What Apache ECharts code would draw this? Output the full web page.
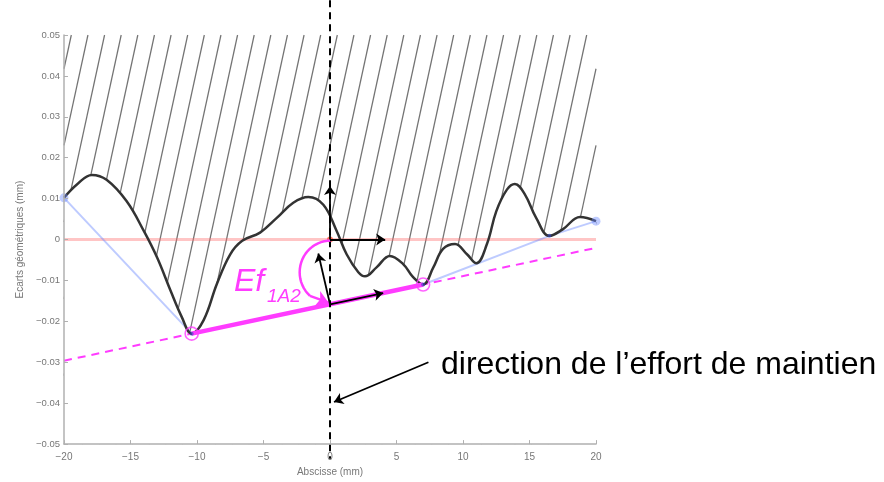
<!DOCTYPE html>
<html><head><meta charset="utf-8">
<script src="https://cdn.jsdelivr.net/npm/echarts/dist/echarts.min.js"></script>
<style>html,body{margin:0;padding:0;background:#fff}#c{width:884px;height:482px}</style>
</head><body><div id="c"></div>
<script>
// ---- data ----
const xTicks = [-20, -15, -10, -5, 0, 5, 10, 15, 20];
const yTicks = [-0.05, -0.04, -0.03, -0.02, -0.01, 0, 0.01, 0.02, 0.03, 0.04, 0.05];
const profileX = [-20, -19.05, -17.9, -16.8, -15.3, -14.0, -13.0, -12.0, -11.15, -10.4, -9.5, -8.5, -7.5, -6.6, -5.26, -4.0, -2.76, -1.63, -0.5, 0.5, 1.25, 2.13, 2.63, 3.5, 4.5, 5.5, 6.2, 7.0, 7.77, 8.5, 9.4, 10.3, 11.0, 11.8, 12.5, 13.3, 13.9, 14.66, 15.5, 16.5, 17.5, 18.8, 20];
const profileY = [0.0102, 0.0134, 0.0158, 0.0146, 0.0094, 0.0021, -0.0044, -0.0124, -0.0189, -0.0230, -0.0197, -0.0108, -0.0036, -0.0003, 0.0017, 0.0053, 0.0090, 0.0104, 0.0085, 0.0021, -0.0036, -0.0080, -0.0090, -0.0068, -0.0040, -0.0060, -0.0090, -0.0110, -0.0068, -0.0023, -0.0011, -0.0036, -0.0058, -0.0011, 0.0069, 0.0122, 0.0136, 0.0110, 0.0053, 0.0009, 0.0025, 0.0055, 0.0045];
const hullX = [-20, -10.4, 7.0, 16.5, 20];
const hullY = [0.0102, -0.0230, -0.0110, 0.0009, 0.0045];
const contactX = [-10.4, 7.0];
const contactY = [-0.0230, -0.0110];
const frameX = [-20, 20];
const frameY = [-0.05, 0.05];
const forceArrowTail = [7.4, -0.0300];
const forceArrowHead = [0.3, -0.0397];
const refArrowUp = [0, 0.0131];
const refArrowRight = [4.15, 0];
const perpArrowTip = [-0.88, -0.0034];
const tangentArrowLen = 4.0;
const axisLineTop = 0.0585, axisLineBottom = -0.0536;
const labelEf = 'Ef', labelSub = '1A2';
const labelDir = 'direction de l’effort de maintien';
const xName = 'Abscisse (mm)', yName = 'Ecarts géométriques (mm)';

// ---- derived geometry ----
const slope = (contactY[1] - contactY[0]) / (contactX[1] - contactX[0]);
const lineAt = x => contactY[0] + slope * (x - contactX[0]);
const pivot = [0, lineAt(0)];
const profile = profileX.map((x, i) => [x, profileY[i]]);
const hull = hullX.map((x, i) => [x, hullY[i]]);

// hatching: parallel strokes from top of frame, clipped to frame, masked below profile
const hatchSlope = 0.015, hatchStart = -19.45, hatchStep = 1.25, hatchCount = 36;
const hatch = [];
for (let k = 0; k < hatchCount; k++) {
  const xt = hatchStart + k * hatchStep;
  let x1 = xt, y1 = frameY[1];
  if (x1 > frameX[1]) { y1 = frameY[1] - hatchSlope * (x1 - frameX[1]); x1 = frameX[1]; }
  let x2 = xt - (frameY[1] - frameY[0]) / hatchSlope, y2 = frameY[0];
  if (x2 < frameX[0]) { y2 = frameY[1] - hatchSlope * (xt - frameX[0]); x2 = frameX[0]; }
  if (y1 > y2 && y1 > -0.01) hatch.push({ coords: [[x1, y1], [x2, y2]] });
}

// arc annotation (angle Ef) in pixel-proportional units
const pxX = 532 / 40, pxY = 413 / 0.1;
const arcC = [0.05, -0.0080], arcR = 31;
const arc = [];
for (let a = 90; a <= 228; a += 6) {
  const r = a * Math.PI / 180;
  arc.push([arcC[0] + arcR * Math.cos(r) / pxX, arcC[1] + 32 * Math.sin(r) / pxY]);
}
const arcEnd = arc[arc.length - 1];

const mag = '#ff3cff';
const fmt = v => (Math.abs(v) < 1e-9 ? '0' : String(+v.toFixed(2)).replace('-', '\u2212'));

const chart = echarts.init(document.getElementById('c'), null, { renderer: 'canvas' });
chart.setOption({
  animation: false,
  backgroundColor: '#fff',
  grid: { left: 64, right: 288, top: 35, bottom: 34 },
  xAxis: {
    type: 'value', min: xTicks[0], max: xTicks[xTicks.length - 1], interval: 5, z: 10,
    name: xName, nameLocation: 'middle', nameGap: 21,
    nameTextStyle: { fontSize: 10, color: '#777', fontFamily: 'Liberation Sans' },
    axisLine: { onZero: false, lineStyle: { color: '#b0b0b0', width: 1.5 } },
    axisTick: { inside: true, length: 4, lineStyle: { color: '#b0b0b0' } },
    axisLabel: { fontSize: 10, color: '#777', margin: 8, fontFamily: 'Liberation Sans', formatter: fmt },
    splitLine: { show: false }
  },
  yAxis: {
    type: 'value', min: yTicks[0], max: yTicks[yTicks.length - 1], interval: 0.01, z: 10,
    name: yName, nameLocation: 'middle', nameGap: 38,
    nameTextStyle: { fontSize: 10, color: '#777', fontFamily: 'Liberation Sans' },
    axisLine: { onZero: false, lineStyle: { color: '#b0b0b0', width: 1.5 } },
    axisTick: { inside: true, length: 4, lineStyle: { color: '#b0b0b0' } },
    axisLabel: { fontSize: 9.5, color: '#777', margin: 4, fontFamily: 'Liberation Sans', formatter: fmt },
    splitLine: { show: false }
  },
  graphic: [
    { type: 'text', left: 234, top: 266, z: 100, style: { text: labelEf, font: 'italic 32px "Liberation Sans", Arial', fill: mag } },
    { type: 'text', left: 267, top: 287, z: 100, style: { text: labelSub, font: 'italic 19px "Liberation Sans", Arial', fill: mag } },
    { type: 'text', left: 441, top: 349, z: 100, style: { text: labelDir, font: '32px "Liberation Sans", Arial', fill: '#000' } }
  ],
  series: [
    { type: 'lines', coordinateSystem: 'cartesian2d', z: 1, silent: true, clip: true,
      data: hatch, lineStyle: { color: '#505050', width: 1.25, opacity: 0.8 } },
    { type: 'line', data: profile, smooth: 0.4, showSymbol: false, z: 2, silent: true,
      lineStyle: { width: 0 }, areaStyle: { color: '#fff', opacity: 1, origin: 'start' } },
    { type: 'line', data: [[frameX[0], 0], [frameX[1], 0]], showSymbol: false, z: 3,
      lineStyle: { color: 'rgba(255,110,110,0.4)', width: 3 } },
    { type: 'line', data: hull, showSymbol: false, z: 3,
      lineStyle: { color: 'rgba(110,140,255,0.45)', width: 2 } },
    { type: 'line', data: [[frameX[0], lineAt(frameX[0])], [frameX[1], lineAt(frameX[1])]], showSymbol: false, z: 4,
      lineStyle: { color: mag, width: 2, type: [8, 6] } },
    { type: 'line', data: profile, smooth: 0.4, showSymbol: false, z: 5,
      lineStyle: { color: '#333', width: 2.5 } },
    { type: 'line', data: contactX.map((x, i) => [x, contactY[i]]), showSymbol: false, z: 6,
      lineStyle: { color: mag, width: 4.5 } },
    { type: 'scatter', z: 6, symbolSize: 9, itemStyle: { color: 'rgba(110,140,255,0.55)' },
      data: [hull[0], hull[hull.length - 1]] },
    { type: 'scatter', z: 7, symbolSize: 4, itemStyle: { color: 'rgba(50,70,190,0.75)' },
      data: [hull[1], hull[2], hull[3]] },
    { type: 'scatter', z: 8, symbolSize: 13,
      itemStyle: { color: 'rgba(0,0,0,0)', borderColor: mag, borderWidth: 1.6 },
      data: contactX.map((x, i) => [x, contactY[i]]) },
    { type: 'scatter', z: 8, symbolSize: 6, itemStyle: { color: '#ff5a3c' }, data: [[0, 0]] },
    { type: 'line', data: [[0, axisLineTop], [0, axisLineBottom]], clip: false, showSymbol: false, z: 9,
      lineStyle: { color: '#000', width: 2, type: [7, 5] } },
    { type: 'line', data: arc, showSymbol: false, z: 9,
      lineStyle: { color: mag, width: 2.5 } },
    { type: 'lines', coordinateSystem: 'cartesian2d', z: 9, clip: false,
      symbol: ['none', 'arrow'], symbolSize: 12,
      lineStyle: { color: mag, width: 2.5, opacity: 1 },
      data: [{ coords: [arcEnd, [pivot[0] - 0.1, pivot[1] + 0.0004]] }] },
    { type: 'lines', coordinateSystem: 'cartesian2d', z: 10, clip: false,
      symbol: ['none', 'arrow'], symbolSize: 9,
      lineStyle: { color: '#000', width: 1.8, opacity: 1 },
      data: [
        { coords: [[0, 0], refArrowUp] },
        { coords: [[0, 0], refArrowRight] },
        { coords: [pivot, [tangentArrowLen, lineAt(tangentArrowLen)]] },
        { coords: [pivot, perpArrowTip] },
        { coords: [forceArrowTail, forceArrowHead] }
      ] }
  ]
});
</script></body></html>
